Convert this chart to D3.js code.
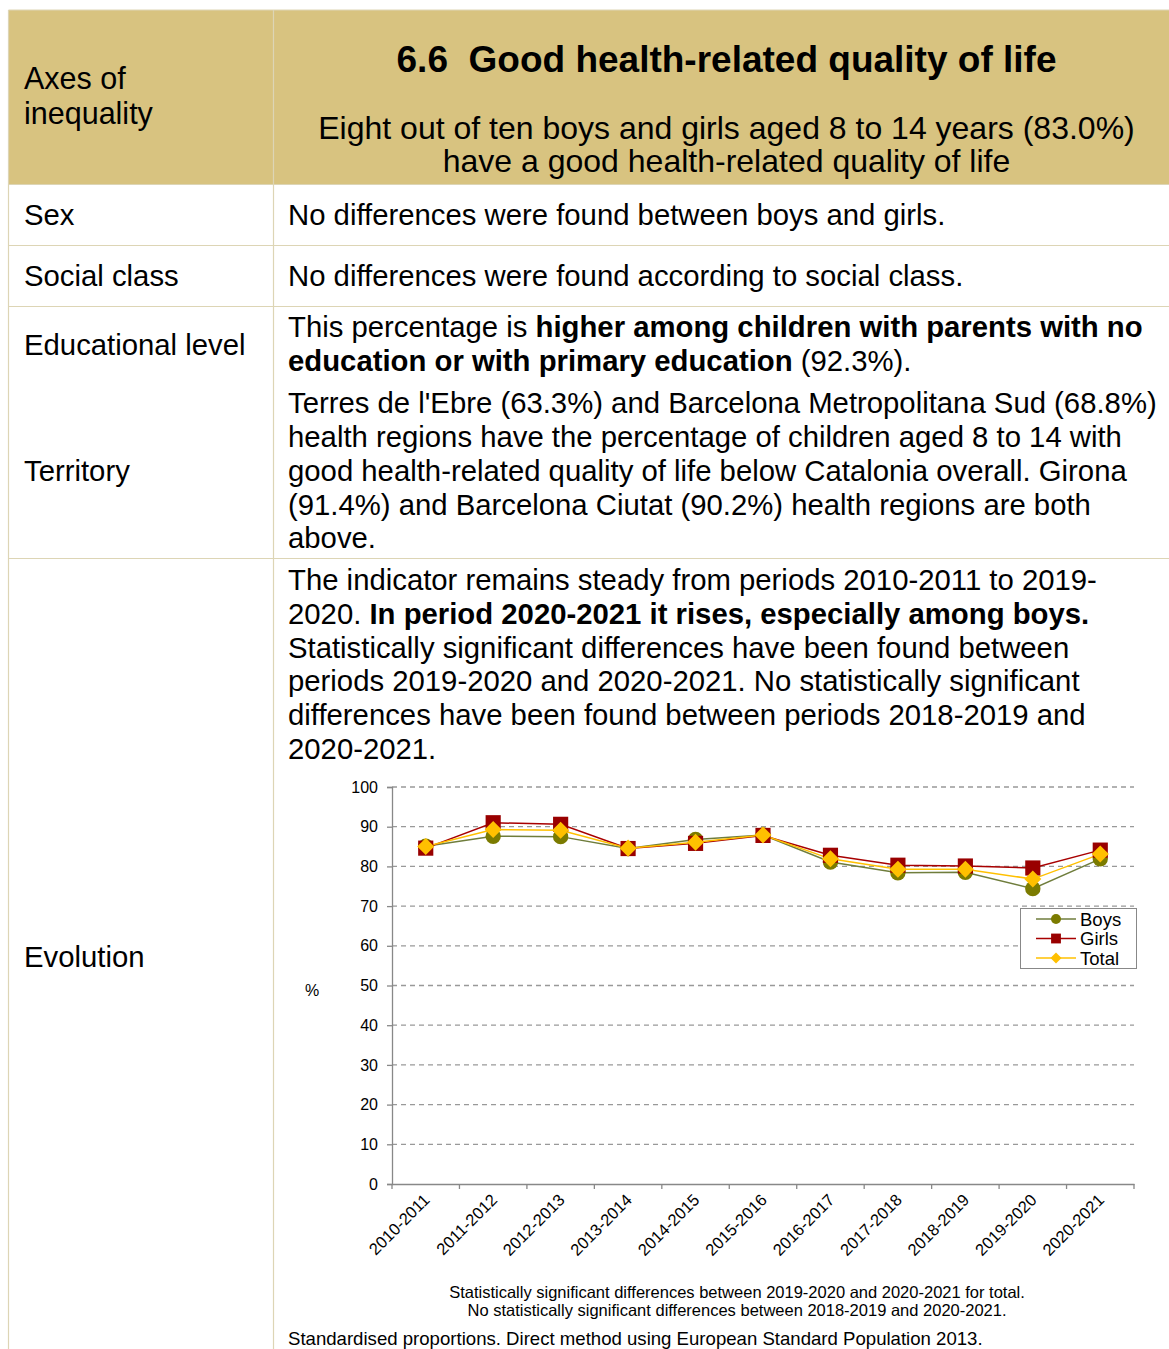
<!DOCTYPE html>
<html lang="en">
<head>
<meta charset="utf-8">
<title>Good health-related quality of life</title>
<style>
  body { margin: 0; background: #fff; }
  svg text { font-family: Arial, "Liberation Sans", sans-serif; fill: #000; }
</style>
</head>
<body>
<script src="https://cdnjs.cloudflare.com/ajax/libs/d3/7.9.0/d3.min.js"></script>
<script>
// chart data
const periods = ["2010-2011", "2011-2012", "2012-2013", "2013-2014", "2014-2015", "2015-2016",
                 "2016-2017", "2017-2018", "2018-2019", "2019-2020", "2020-2021"];
const boys  = [85.1, 87.6, 87.5, 84.5, 86.8, 87.9, 81.1, 78.4, 78.5, 74.4, 81.9];
const girls = [84.6, 91.0, 90.6, 84.5, 85.8, 87.8, 82.8, 80.3, 80.1, 79.6, 84.1];
const total = [85.0, 89.3, 89.1, 84.6, 86.1, 87.9, 81.9, 79.3, 79.3, 76.8, 83.1];
const yTicks = [0, 10, 20, 30, 40, 50, 60, 70, 80, 90, 100];

const diamond = d3.symbolSquare; // drawn rotated 45deg
const series = [
  {name: "Boys",  values: boys,  line: "#6f7d3c", fill: "#7b7b00", shape: d3.symbolCircle, size: 185, rot: 0},
  {name: "Girls", values: girls, line: "#a80000", fill: "#990000", shape: d3.symbolSquare, size: 230, rot: 0},
  {name: "Total", values: total, line: "#ffc000", fill: "#ffc000", shape: diamond,         size: 145, rot: 45}
];

const W = 1169, H = 1349;
const svg = d3.select("body").append("svg").attr("width", W).attr("height", H);

const border = "#ddd5b5";
const colL = 8.5, colM = 273.5, colR = 1169;
const BODY = 29.3;

// header band
svg.append("rect").attr("x", colL).attr("y", 10).attr("width", colR - colL).attr("height", 174)
  .attr("fill", "#d8c380");

// table lines
const hLines = [10, 184.5, 245.5, 306.5, 558.5];
hLines.forEach(y => svg.append("line").attr("x1", colL).attr("x2", colR).attr("y1", y).attr("y2", y)
  .attr("stroke", border).attr("stroke-width", 1.2));
[colL, colM].forEach(x => svg.append("line").attr("x1", x).attr("x2", x).attr("y1", 10).attr("y2", H)
  .attr("stroke", border).attr("stroke-width", 1.2));

function lines(x, ys, arr, opts = {}) {
  const t = svg.append("text").attr("font-size", opts.size || BODY)
    .attr("text-anchor", opts.anchor || "start");
  arr.forEach((ln, i) => {
    const ts = t.append("tspan").attr("x", x).attr("y", ys[i]);
    (Array.isArray(ln) ? ln : [ln]).forEach(seg => {
      if (typeof seg === "string") ts.append("tspan").text(seg);
      else ts.append("tspan").attr("font-weight", "bold").text(seg.b);
    });
  });
  if (opts.weight) t.attr("font-weight", opts.weight);
  return t;
}

// left column
lines(24, [89, 124], ["Axes of", "inequality"], {size: 30.5});
lines(24, [225], ["Sex"]);
lines(24, [286], ["Social class"]);
lines(24, [355], ["Educational level"]);
lines(24, [481], ["Territory"]);
lines(24, [967], ["Evolution"]);

// header titles
lines(726.5, [72], ["6.6\u00a0 Good health-related quality of life"], {anchor: "middle", size: 37, weight: "bold"});
lines(726.5, [139, 172], ["Eight out of ten boys and girls aged 8 to 14 years (83.0%)",
                          "have a good health-related quality of life"], {anchor: "middle", size: 32});

// right column
lines(288, [225], ["No differences were found between boys and girls."]);
lines(288, [286], ["No differences were found according to social class."]);
lines(288, [337, 371], [["This percentage is ", {b: "higher among children with parents with no"}],
                        [{b: "education or with primary education"}, " (92.3%)."]]);
lines(288, [413, 447, 481, 515, 548], [
  "Terres de l'Ebre (63.3%) and Barcelona Metropolitana Sud (68.8%)",
  "health regions have the percentage of children aged 8 to 14 with",
  "good health-related quality of life below Catalonia overall. Girona",
  "(91.4%) and Barcelona Ciutat (90.2%) health regions are both",
  "above."]);
lines(288, [590, 624, 658, 691, 725, 759], [
  "The indicator remains steady from periods 2010-2011 to 2019-",
  ["2020. ", {b: "In period 2020-2021 it rises, especially among boys."}],
  "Statistically significant differences have been found between",
  "periods 2019-2020 and 2020-2021. No statistically significant",
  "differences have been found between periods 2018-2019 and",
  "2020-2021."]);

// chart
const x = d3.scaleBand().domain(periods).range([392, 1134]).paddingInner(0).paddingOuter(0);
const y = d3.scaleLinear().domain([0, 100]).range([1184, 787]);
const cx = p => x(p) + x.bandwidth() / 2;
const FONT = "Arial, 'Liberation Sans', sans-serif";

const grid = svg.append("g");
grid.selectAll("line").data(yTicks.filter(t => t > 0)).join("line")
  .attr("x1", 392).attr("x2", 1134).attr("y1", d => y(d)).attr("y2", d => y(d))
  .attr("stroke", "#999").attr("stroke-width", 1.3).attr("stroke-dasharray", "5,4");

const yAxis = svg.append("g").attr("transform", "translate(392,0)")
  .call(d3.axisLeft(y).tickValues(yTicks).tickSize(5).tickPadding(9));
yAxis.select(".domain").attr("stroke", "#888").attr("stroke-width", 1.3);
yAxis.selectAll(".tick line").attr("stroke", "#888").attr("stroke-width", 1.3);
yAxis.selectAll("text").attr("font-size", 16).attr("font-family", FONT).attr("fill", "#000");

const xAxis = svg.append("g").attr("transform", "translate(0,1184)")
  .call(d3.axisBottom(x).tickSize(0).tickPadding(8).tickSizeOuter(0));
xAxis.select(".domain").attr("stroke", "#888").attr("stroke-width", 1.3);
xAxis.selectAll("text")
  .attr("font-size", 16.5).attr("font-family", FONT).attr("fill", "#000")
  .attr("text-anchor", "end").attr("dy", null).attr("y", 0).attr("x", 0)
  .attr("transform", "translate(5,17) rotate(-45)");
// category boundary ticks
xAxis.append("g").selectAll("line").data(periods.map(p => x(p)).concat([x.range()[1]])).join("line")
  .attr("x1", d => d).attr("x2", d => d).attr("y1", 0).attr("y2", 5)
  .attr("stroke", "#888").attr("stroke-width", 1.3);

svg.append("text").attr("x", 312).attr("y", 996).attr("font-size", 16).attr("text-anchor", "middle").text("%");

const line = d3.line().x((d, i) => cx(periods[i])).y(d => y(d));
series.forEach(s => {
  svg.append("path").datum(s.values).attr("d", line)
    .attr("fill", "none").attr("stroke", s.line).attr("stroke-width", 1.5);
});
series.forEach(s => {
  svg.append("g").selectAll("path").data(s.values).join("path")
    .attr("d", d3.symbol().type(s.shape).size(s.size))
    .attr("transform", (d, i) => `translate(${cx(periods[i])},${y(d)}) rotate(${s.rot})`)
    .attr("fill", s.fill);
});

// legend
const lg = svg.append("g").attr("transform", "translate(1020,908)");
lg.append("rect").attr("x", 0.5).attr("y", 0.5).attr("width", 116).attr("height", 60)
  .attr("fill", "#fff").attr("stroke", "#888").attr("stroke-width", 1);
series.forEach((s, i) => {
  const gy = 11 + i * 19.5;
  lg.append("line").attr("x1", 16).attr("x2", 56).attr("y1", gy).attr("y2", gy)
    .attr("stroke", s.line).attr("stroke-width", 1.3);
  lg.append("path").attr("d", d3.symbol().type(s.shape).size(s.size * 0.42))
    .attr("transform", `translate(36,${gy}) rotate(${s.rot})`).attr("fill", s.fill);
  lg.append("text").attr("x", 60).attr("y", gy + 6.5).attr("font-size", 18.5).text(s.name);
});

// footnotes
lines(737, [1298, 1316], ["Statistically significant differences between 2019-2020 and 2020-2021 for total.",
                          "No statistically significant differences between 2018-2019 and 2020-2021."],
      {anchor: "middle", size: 16.5});
lines(288, [1345], ["Standardised proportions. Direct method using European Standard Population 2013."], {size: 18.6});
</script>
</body>
</html>
